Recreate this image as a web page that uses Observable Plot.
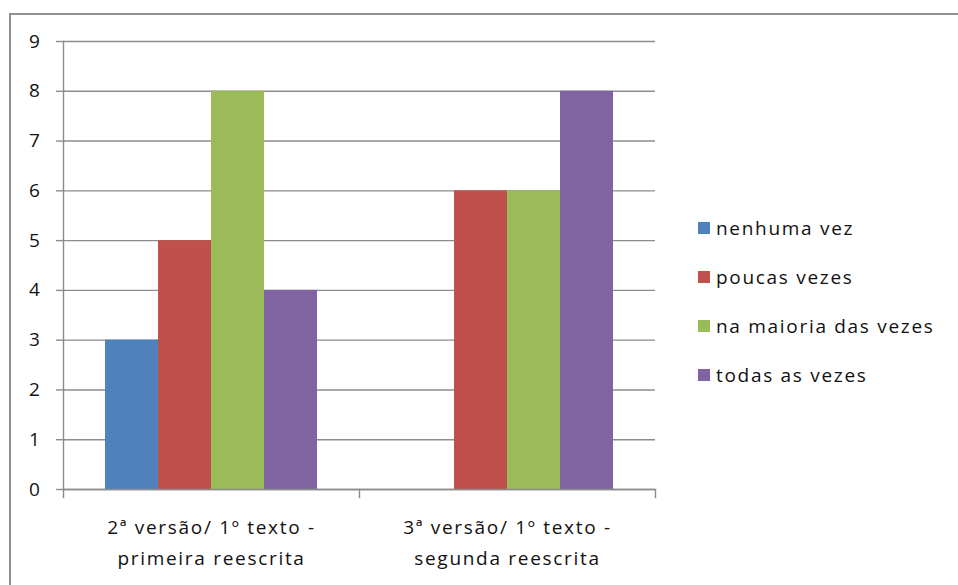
<!DOCTYPE html>
<html><head><meta charset="utf-8">
<script src="https://cdn.jsdelivr.net/npm/d3@7"></script>
<script src="https://cdn.jsdelivr.net/npm/@observablehq/plot@0.6"></script>
<style>
body{margin:0;background:#fff;}
#wrap{position:relative;width:958px;height:585px;overflow:hidden;font-family:"Open Sans",sans-serif;color:#111;}
#border{position:absolute;left:9px;top:13px;width:1000px;height:1000px;border:2px solid #909090;box-sizing:border-box;}
#chart{position:absolute;left:0;top:0;}
#legend{position:absolute;left:698px;top:203px;font-size:19px;letter-spacing:1.7px;}
.row{display:flex;align-items:center;height:49px;}
.sw{width:12px;height:12px;margin-right:6px;flex:none;}
svg text{letter-spacing:1.7px;}
</style></head>
<body>
<div id="wrap"><div id="border"></div><div id="chart"></div><div id="legend"></div></div>
<script>
const groups = ["2ª versão/ 1º texto - primeira reescrita", "3ª versão/ 1º texto - segunda reescrita"];
const series = ["nenhuma vez", "poucas vezes", "na maioria das vezes", "todas as vezes"];
const colors = ["#4F81BD", "#C0504D", "#9BBB59", "#8064A2"];
const valuesGroup1 = [3, 5, 8, 4];
const valuesGroup2 = [0, 6, 6, 8];
const yTicks = [0, 1, 2, 3, 4, 5, 6, 7, 8, 9];

const allValues = [valuesGroup1, valuesGroup2];
const data = groups.flatMap((g, gi) => series.map((s, si) => ({group: g, series: s, value: allValues[gi][si]})));

const gridColor = "#8c8c8c";
const chart = Plot.plot({
  width: 958, height: 585,
  marginLeft: 62, marginRight: 303, marginTop: 41, marginBottom: 96,
  fx: {domain: groups, padding: 0, label: null},
  x: {domain: series, paddingInner: 0, paddingOuter: 0.79, axis: null},
  y: {domain: [0, 9], label: null},
  color: {domain: series, range: colors},
  style: {fontFamily: "'Open Sans', sans-serif", fontSize: "19px", color: "#111", background: "transparent"},
  marks: [
    Plot.gridY(yTicks, {stroke: gridColor, strokeOpacity: 1, strokeWidth: 1.4}),
    Plot.barY(data, {fx: "group", x: "series", y: "value", fill: "series"}),
    Plot.axisY(yTicks, {tickSize: 7, tickPadding: 15, tickFormat: d => String(d), stroke: gridColor, strokeWidth: 1.4, fontSize: 19, fill: "#111"}),
    Plot.frame({anchor: "left", facetAnchor: "left", stroke: gridColor, strokeWidth: 1.4}),
    Plot.ruleY([0], {stroke: gridColor, strokeWidth: 1.4}),
    Plot.frame({anchor: "left", insetTop: 448, insetBottom: -8, stroke: gridColor, strokeWidth: 1.4}),
    Plot.frame({anchor: "right", facetAnchor: "right", insetTop: 448, insetBottom: -8, stroke: gridColor, strokeWidth: 1.4}),
    Plot.axisFx({anchor: "bottom", tickSize: 0, tickPadding: 23, lineHeight: 1.63, fontSize: 19, fill: "#111",
      tickFormat: d => d.replace(" - ", " -\n")})
  ]
});
document.getElementById("chart").appendChild(chart);

const legend = document.getElementById("legend");
series.forEach((s, i) => {
  const row = document.createElement("div");
  row.className = "row";
  const sw = document.createElement("div");
  sw.className = "sw";
  sw.style.background = colors[i];
  const t = document.createElement("span");
  t.textContent = s;
  row.appendChild(sw); row.appendChild(t);
  legend.appendChild(row);
});
</script>
</body></html>
